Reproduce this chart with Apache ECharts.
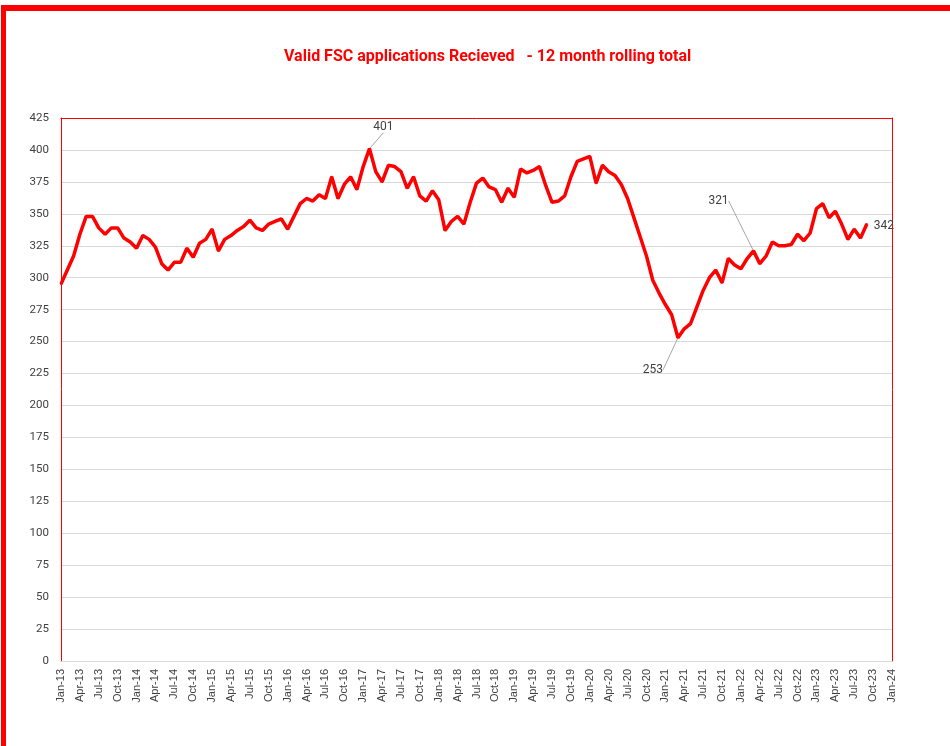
<!DOCTYPE html>
<html>
<head>
<meta charset="utf-8">
<title>Valid FSC applications</title>
<script src="https://cdn.jsdelivr.net/npm/echarts@6/dist/echarts.min.js"></script>
<style>
  html, body { margin: 0; padding: 0; background: #fff; }
  #chart { position: absolute; left: 0; top: 0; width: 950px; height: 746px; }
  #frame {
    position: absolute; left: 1px; top: 5px; width: 949px; height: 739px;
    border-top: 6px solid #ff0000; border-left: 5px solid #ff0000;
    border-bottom: 2px solid #e05050; pointer-events: none;
  }
</style>
</head>
<body>
<div id="chart"></div>
<div id="frame"></div>
<script>
// monthly categories Jan-13 .. Jan-24
var monthNames = ['Jan', 'Feb', 'Mar', 'Apr', 'May', 'Jun', 'Jul', 'Aug', 'Sep', 'Oct', 'Nov', 'Dec'];
var years = [13, 14, 15, 16, 17, 18, 19, 20, 21, 22, 23, 24];

// 12 month rolling total, Jan-13 .. Sep-23
var rollingTotal = [
  295, 306, 317, 334, 348, 348, 339, 334, 339, 339, 331, 328,
  323, 333, 330, 324, 311, 306, 312, 312, 323, 316, 327, 330,
  338, 321, 330, 333, 337, 340, 345, 339, 337, 342, 344, 346,
  338, 348, 358, 362, 360, 365, 362, 379, 362, 373, 379, 369,
  387, 401, 383, 375, 388, 387, 383, 370, 379, 364, 360, 368,
  361, 337, 344, 348, 342, 359, 374, 378, 371, 369, 359, 370,
  363, 385, 382, 384, 387, 372, 359, 360, 364, 379, 391, 393,
  395, 374, 388, 383, 380, 373, 362, 347, 332, 317, 298, 288,
  279, 271, 253, 260, 264, 277, 290, 300, 306, 296, 315, 310,
  307, 315, 321, 311, 317, 328, 325, 325, 326, 334, 329, 335,
  354, 358, 347, 352, 342, 330, 338, 331, 342
];

// points that carry a value label
var labelledPoints = [49, 98, 110, 128];

var categories = [];
years.forEach(function (y) {
  monthNames.forEach(function (m) {
    if (y === 24 && m !== 'Jan') return;
    categories.push(m + '-' + y);
  });
});

var chart = echarts.init(document.getElementById('chart'));

var seriesData = rollingTotal.map(function (v, i) {
  if (labelledPoints.indexOf(i) < 0) return v;
  var item = { value: v, label: { show: true }, labelLine: { show: i !== 128 } };
  if (i === 98) item.label.position = 'bottom';
  if (i === 128) item.label.position = 'right';
  return item;
});

var labelShift = {
  49: { dx: 14, dy: -10 },
  98: { dx: -25, dy: 20 },
  110: { dx: -35, dy: -38 },
  128: { dx: 1, dy: 2 }
};

var font = "'Liberation Sans Narrow', Roboto, sans-serif";

var option = {
  animation: false,
  title: {
    text: 'Valid FSC applications Recieved   - 12 month rolling total',
    left: 279,
    top: 44,
    textStyle: { color: '#ff0000', fontSize: 16, fontWeight: 'bold', fontFamily: font }
  },
  grid: { left: 61, right: 58, top: 118, bottom: 85 },
  xAxis: [
    {
      type: 'category',
      data: categories,
      boundaryGap: false,
      axisLine: { onZero: false, lineStyle: { color: '#d9d9d9', width: 1 } },
      axisTick: { show: false },
      axisLabel: {
        interval: 2,
        rotate: 90,
        margin: 8,
        color: '#404040',
        fontSize: 11,
        fontFamily: "'Liberation Sans', Arial, sans-serif"
      },
      splitLine: { show: false }
    },
    {
      type: 'category',
      data: categories,
      position: 'top',
      boundaryGap: false,
      axisLine: { onZero: false, lineStyle: { color: '#ff0000', width: 1 } },
      axisTick: { show: false },
      axisLabel: { show: false }
    }
  ],
  yAxis: [
    {
      type: 'value',
      min: 0,
      max: 425,
      interval: 25,
      axisLine: { show: true, onZero: false, lineStyle: { color: '#ff0000', width: 1 } },
      axisTick: { show: false },
      axisLabel: { margin: 12, color: '#404040', fontSize: 11.5, fontFamily: font },
      splitLine: { lineStyle: { color: '#d9d9d9', width: 1 } }
    },
    {
      type: 'value',
      min: 0,
      max: 425,
      interval: 25,
      position: 'right',
      axisLine: { show: true, onZero: false, lineStyle: { color: '#ff0000', width: 1 } },
      axisTick: { show: false },
      axisLabel: { show: false },
      splitLine: { show: false }
    }
  ],
  series: [
    {
      name: '12 month rolling total',
      type: 'line',
      data: seriesData,
      symbol: 'circle',
      symbolSize: 2,
      showSymbol: true,
      showAllSymbol: true,
      lineStyle: { color: '#ff0000', width: 3.5 },
      itemStyle: { color: '#ff0000' },
      label: {
        show: false,
        color: '#404040',
        fontSize: 12,
        fontFamily: font
      },
      labelLine: { show: false, lineStyle: { color: '#a6a6a6', width: 1 } },
      labelLayout: function (params) {
        var s = labelShift[params.dataIndex];
        return s ? { dx: s.dx, dy: s.dy } : {};
      },
      z: 3
    }
  ]
};

option && chart.setOption(option);
</script>
</body>
</html>
